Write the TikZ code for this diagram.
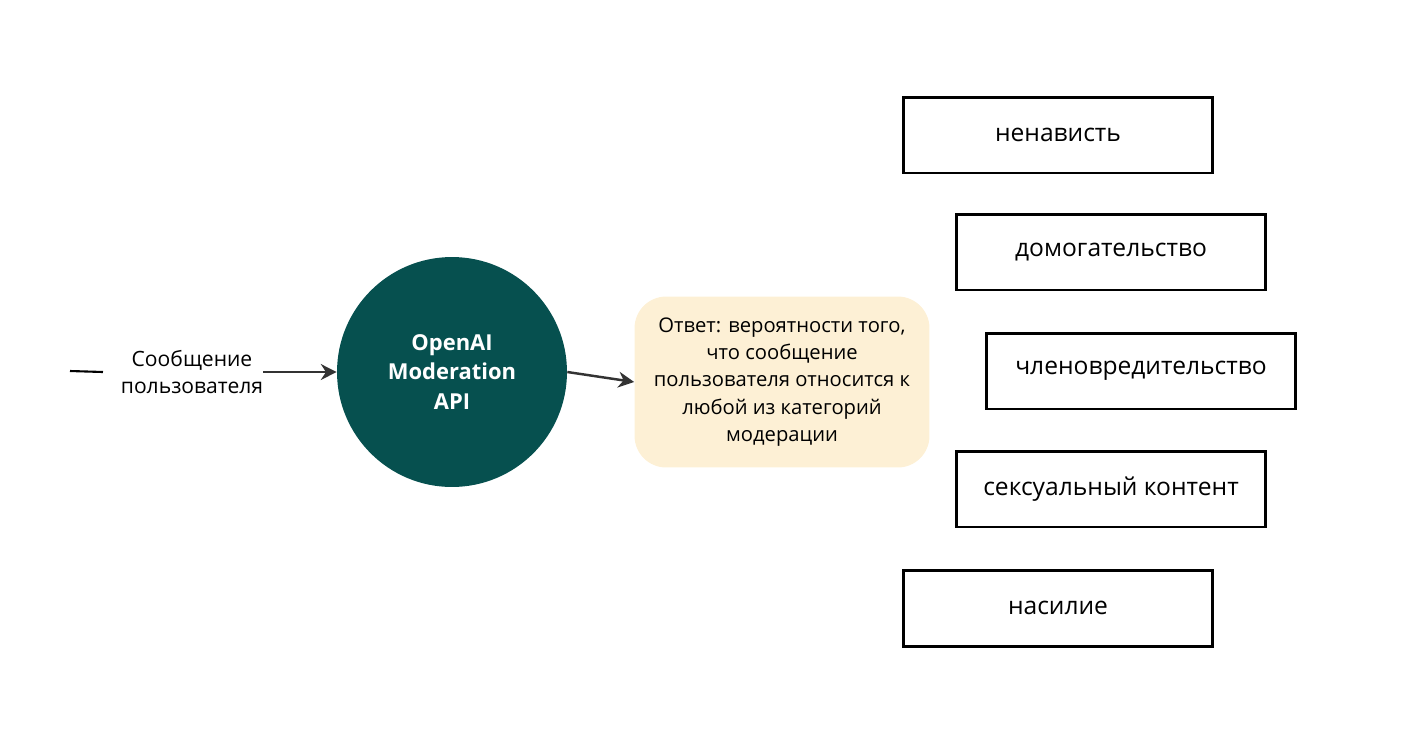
\documentclass[tikz,border=0pt]{standalone}
\usepackage{fontspec}
\setmainfont{Open Sans}
\usetikzlibrary{positioning,arrows.meta}
\definecolor{apiteal}{HTML}{06504F}
\definecolor{answerbg}{HTML}{FDF0D5}
\begin{document}
\begin{tikzpicture}[x=0.02cm,y=-0.02cm,>={Stealth[length=9pt,width=9pt]},
  category/.style={draw=black,line width=1.7pt,minimum width=6.2cm,minimum height=1.52cm,font=\fontsize{14}{16}\selectfont},
  flow/.style={->,line width=1.4pt,draw=black!80}]
  \useasboundingbox (0,0) rectangle (1421,752);
  % input side
  \coordinate (start) at (70,371);
  \node[align=center,font=\fontsize{12}{15}\selectfont,inner sep=2pt] (msg) at (192,372) {Сообщение\\пользователя};
  \node[circle,fill=apiteal,minimum size=4.6cm,text=white,align=center,
        font=\bfseries\fontsize{12.5}{17}\selectfont] (api) at (452,372) {OpenAI\\Moderation\\API};
  \node[fill=answerbg,rounded corners=18pt,minimum width=5.9cm,minimum height=3.42cm,
        align=center,font=\fontsize{11.5}{15.5}\selectfont] (answer) at (782,382)
        {Ответ: вероятности того,\\что сообщение\\пользователя относится к\\любой из категорий\\модерации};
  \draw[line width=1.2pt] (start) -- ([xshift=-8pt]msg.west);
  \draw[flow] ([xshift=-2pt]msg.east) -- (api.west);
  \draw[flow] (api.east) -- (answer.west);
  % categories
  \node[category] (hate) at (1058,135) {ненависть};
  \node[category] (harass) at (1111,252) {домогательство};
  \node[category] (selfharm) at (1141,371) {членовредительство};
  \node[category] (sexual) at (1111,489) {сексуальный контент};
  \node[category] (violence) at (1058,608) {насилие};
\end{tikzpicture}
\end{document}
